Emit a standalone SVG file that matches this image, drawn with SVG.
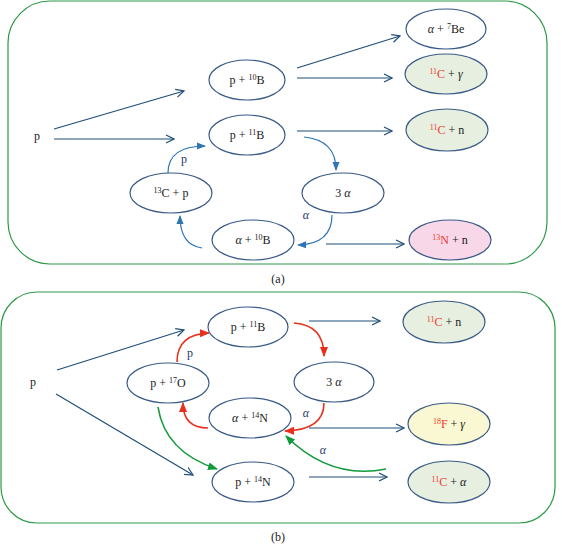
<svg xmlns="http://www.w3.org/2000/svg" width="562" height="544" viewBox="0 0 562 544">
<style>
.frame{fill:#fff;stroke:#2e9a48;stroke-width:1.2}
.nd{fill:#fff;stroke:#3a5a86;stroke-width:1.2}
.g{fill:#e6efe0}
.pk{fill:#f8d7e8}
.yl{fill:#faf8d2}
text{font-family:"Liberation Serif","Times New Roman",serif;font-size:12px;fill:#1a1a1a;text-anchor:middle}
.sup{font-size:8px}
.r{fill:#f03a30}
.lbl{fill:#1f3864}
.st{fill:none;stroke:#1f4e79;stroke-width:1.2;marker-end:url(#open)}
.cb{fill:none;stroke:#2e75b6;stroke-width:1.2;marker-end:url(#fb)}
.cr{fill:none;stroke:#e8301c;stroke-width:1.6;marker-end:url(#fr)}
.cg{fill:none;stroke:#119a3c;stroke-width:1.6;marker-end:url(#fg)}
</style>
<defs>
<marker id="open" viewBox="0 0 10 10" refX="9" refY="5" markerWidth="10" markerHeight="10" markerUnits="userSpaceOnUse" orient="auto"><path d="M1,1 L9,5 L1,9" fill="none" stroke="#1f4e79" stroke-width="1.2"/></marker>
<marker id="fb" viewBox="0 0 10 10" refX="9" refY="5" markerWidth="9" markerHeight="9" markerUnits="userSpaceOnUse" orient="auto"><path d="M0,1 L10,5 L0,9 Z" fill="#2e75b6"/></marker>
<marker id="fr" viewBox="0 0 10 10" refX="9" refY="5" markerWidth="10" markerHeight="10" markerUnits="userSpaceOnUse" orient="auto"><path d="M0,1 L10,5 L0,9 Z" fill="#e8301c"/></marker>
<marker id="fg" viewBox="0 0 10 10" refX="9" refY="5" markerWidth="10" markerHeight="10" markerUnits="userSpaceOnUse" orient="auto"><path d="M0,1 L10,5 L0,9 Z" fill="#119a3c"/></marker>
</defs>

<g id="panel-a">
<rect class="frame" x="8" y="1" width="539" height="263" rx="42" ry="42"/>
<text x="278" y="283">(a)</text>
</g>
<g id="panel-b">
<rect class="frame" x="1" y="292" width="554" height="231" rx="36" ry="36"/>
<text x="278" y="541">(b)</text>
</g>

<g id="connectors">
<!-- (a) -->
<line class="st" x1="54" y1="129" x2="184" y2="91"/>
<line class="st" x1="54" y1="139" x2="174" y2="139"/>
<line class="st" x1="297" y1="68" x2="400" y2="36"/>
<line class="st" x1="297" y1="78" x2="392" y2="78"/>
<line class="st" x1="297" y1="131" x2="392" y2="131"/>
<line class="st" x1="326" y1="244" x2="404" y2="244"/>
<path class="cb" d="M304,137 Q336,140 336,170"/>
<path class="cb" d="M332,215 Q332,244 298,245"/>
<path class="cb" d="M202,248 Q180,245 180,216"/>
<path class="cb" d="M168,173 Q168,146 205,146"/>
<!-- (b) -->
<line class="st" x1="57" y1="370" x2="184" y2="330"/>
<line class="st" x1="56" y1="394" x2="193" y2="475"/>
<line class="st" x1="309" y1="321" x2="380" y2="321"/>
<line class="st" x1="309" y1="428" x2="404" y2="428"/>
<line class="st" x1="309" y1="477" x2="387" y2="477"/>
<path class="cr" d="M294,323 Q324,325 324,356"/>
<path class="cr" d="M324,403 Q324,430 285,431"/>
<path class="cr" d="M208,428 Q183,428 183,403"/>
<path class="cr" d="M177,362 Q177,334 209,333"/>
<path class="cg" d="M158,407 Q165,452 217,469"/>
<path class="cg" d="M386,469 Q330,480 286,436"/>
</g>

<g id="labels">
<text x="37" y="140">p</text>
<text class="lbl" x="184" y="163">p</text>
<text class="lbl" x="306" y="219" font-style="italic">α</text>
<text x="33" y="386">p</text>
<text class="lbl" x="190" y="357">p</text>
<text class="lbl" x="306" y="417" font-style="italic">α</text>
<text class="lbl" x="323" y="454" font-style="italic">α</text>
</g>

<!-- (a) nodes -->
<g id="a-p10B"><ellipse class="nd" cx="247" cy="80" rx="38" ry="20"/><text x="247" y="84">p + <tspan class="sup" dy="-4">10</tspan><tspan dy="4">B</tspan></text></g>
<g id="a-p11B"><ellipse class="nd" cx="247" cy="135" rx="38" ry="20"/><text x="247" y="139">p + <tspan class="sup" dy="-4">11</tspan><tspan dy="4">B</tspan></text></g>
<g id="a-13Cp"><ellipse class="nd" cx="171" cy="193" rx="41" ry="20"/><text x="171" y="197"><tspan class="sup" dy="-4">13</tspan><tspan dy="4">C + p</tspan></text></g>
<g id="a-a10B"><ellipse class="nd" cx="253" cy="240" rx="41" ry="20"/><text x="253" y="244"><tspan font-style="italic">α</tspan> + <tspan class="sup" dy="-4">10</tspan><tspan dy="4">B</tspan></text></g>
<g id="a-3a"><ellipse class="nd" cx="343" cy="193" rx="41" ry="20"/><text x="343" y="197">3 <tspan font-style="italic">α</tspan></text></g>
<g id="a-a7Be"><ellipse class="nd" cx="446" cy="29" rx="40" ry="20"/><text x="446" y="33"><tspan font-style="italic">α</tspan> + <tspan class="sup" dy="-4">7</tspan><tspan dy="4">Be</tspan></text></g>
<g id="a-11Cg"><ellipse class="nd g" cx="446" cy="74" rx="41" ry="20"/><text x="446" y="78"><tspan class="sup r" dy="-4">11</tspan><tspan class="r" dy="4">C</tspan> + <tspan font-style="italic">γ</tspan></text></g>
<g id="a-11Cn"><ellipse class="nd g" cx="447" cy="130" rx="41" ry="21"/><text x="447" y="134"><tspan class="sup r" dy="-4">11</tspan><tspan class="r" dy="4">C</tspan> + n</text></g>
<g id="a-13Nn"><ellipse class="nd pk" cx="450" cy="240" rx="41" ry="20"/><text x="450" y="244"><tspan class="sup r" dy="-4">13</tspan><tspan class="r" dy="4">N</tspan> + n</text></g>

<!-- (b) nodes -->
<g id="b-p11B"><ellipse class="nd" cx="248" cy="327" rx="40" ry="20"/><text x="248" y="331">p + <tspan class="sup" dy="-4">11</tspan><tspan dy="4">B</tspan></text></g>
<g id="b-p17O"><ellipse class="nd" cx="168" cy="383" rx="41" ry="20"/><text x="168" y="387">p + <tspan class="sup" dy="-4">17</tspan><tspan dy="4">O</tspan></text></g>
<g id="b-a14N"><ellipse class="nd" cx="250" cy="418" rx="41" ry="20"/><text x="250" y="422"><tspan font-style="italic">α</tspan> + <tspan class="sup" dy="-4">14</tspan><tspan dy="4">N</tspan></text></g>
<g id="b-p14N"><ellipse class="nd" cx="253" cy="482" rx="41" ry="20"/><text x="253" y="486">p + <tspan class="sup" dy="-4">14</tspan><tspan dy="4">N</tspan></text></g>
<g id="b-3a"><ellipse class="nd" cx="334" cy="382" rx="40" ry="20"/><text x="334" y="386">3 <tspan font-style="italic">α</tspan></text></g>
<g id="b-11Cn"><ellipse class="nd g" cx="444" cy="322" rx="41" ry="21"/><text x="444" y="326"><tspan class="sup r" dy="-4">11</tspan><tspan class="r" dy="4">C</tspan> + n</text></g>
<g id="b-18Fg"><ellipse class="nd yl" cx="449" cy="424" rx="41" ry="21"/><text x="449" y="428"><tspan class="sup r" dy="-4">18</tspan><tspan class="r" dy="4">F</tspan> + <tspan font-style="italic">γ</tspan></text></g>
<g id="b-11Ca"><ellipse class="nd g" cx="449" cy="482" rx="41" ry="21"/><text x="449" y="486"><tspan class="sup r" dy="-4">11</tspan><tspan class="r" dy="4">C</tspan> + <tspan font-style="italic">α</tspan></text></g>
</svg>
